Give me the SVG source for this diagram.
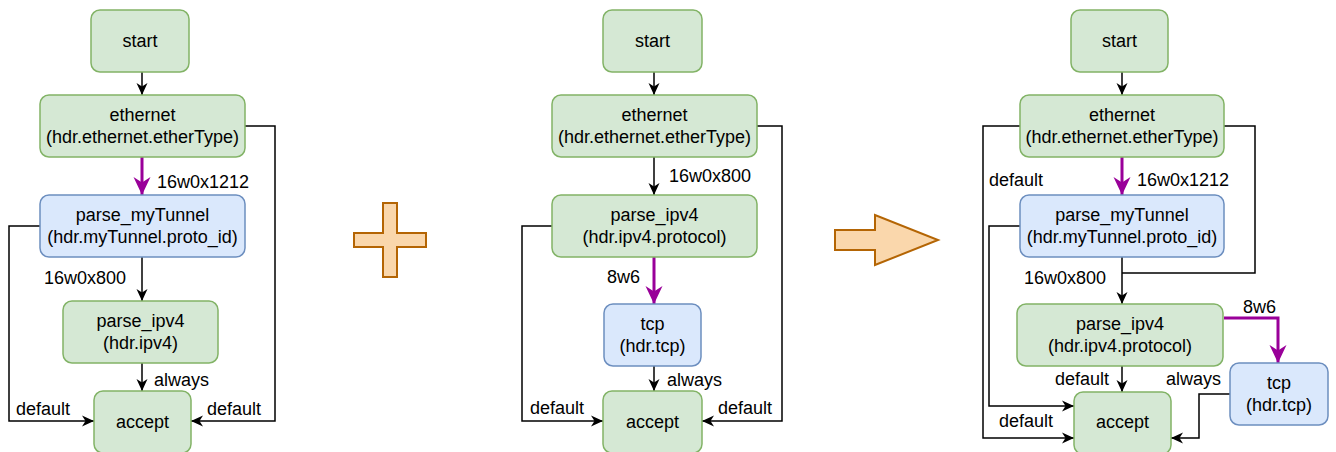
<svg xmlns="http://www.w3.org/2000/svg" width="1336" height="452" viewBox="0 0 1336 452">
  <style>
    .g { fill: #d5e8d4; stroke: #82b366; stroke-width: 1.5; }
    .b { fill: #dae8fc; stroke: #6c8ebf; stroke-width: 1.5; }
    text { font-family: "Liberation Sans", Arial, sans-serif; font-size: 18px; fill: #000; }
    .c { text-anchor: middle; }
    .e { fill: none; stroke: #000; stroke-width: 1.5; }
    .p { fill: none; stroke: #990099; stroke-width: 3; }
    .op { fill: #fad7ac; stroke: #b46504; stroke-width: 2; }
  </style>
  <defs>
    <marker id="ab" markerUnits="userSpaceOnUse" markerWidth="14" markerHeight="14" viewBox="-13 -7 14 14" refX="0" refY="0" orient="auto">
      <path d="M0,0 L-12,-5.5 L-8.5,0 L-12,5.5 Z" fill="#000"/>
    </marker>
    <marker id="ap" markerUnits="userSpaceOnUse" markerWidth="20" markerHeight="20" viewBox="-19 -10 20 20" refX="0" refY="0" orient="auto">
      <path d="M0,0 L-18,-8.5 L-12.5,0 L-18,8.5 Z" fill="#990099"/>
    </marker>
  </defs>

  <!-- connectors -->
  <g id="edges">
    <!-- left graph -->
    <path class="e" d="M142,72 V95" marker-end="url(#ab)"/>
    <path class="p" d="M142,157 V195" marker-end="url(#ap)"/>
    <path class="e" d="M142,257 V301" marker-end="url(#ab)"/>
    <path class="e" d="M142,363 V391" marker-end="url(#ab)"/>
    <path class="e" d="M245,126 H275 V421 H191" marker-end="url(#ab)"/>
    <path class="e" d="M40,226 H9 V421 H94" marker-end="url(#ab)"/>
    <!-- middle graph -->
    <path class="e" d="M654,72 V95" marker-end="url(#ab)"/>
    <path class="e" d="M654,157 V195" marker-end="url(#ab)"/>
    <path class="p" d="M654,257 V304" marker-end="url(#ap)"/>
    <path class="e" d="M654,366 V391" marker-end="url(#ab)"/>
    <path class="e" d="M757,126 H782 V421 H702" marker-end="url(#ab)"/>
    <path class="e" d="M552,226 H522 V421 H603" marker-end="url(#ab)"/>
    <!-- merged graph -->
    <path class="e" d="M1122,72 V95" marker-end="url(#ab)"/>
    <path class="p" d="M1122,157 V195" marker-end="url(#ap)"/>
    <path class="e" d="M1122,257 V304" marker-end="url(#ab)"/>
    <path class="e" d="M1224,126 H1255 V273 H1122"/>
    <path class="e" d="M1020,126 H983 V438 H1074" marker-end="url(#ab)"/>
    <path class="e" d="M1020,226 H989 V406 H1074" marker-end="url(#ab)"/>
    <path class="p" d="M1224,318 H1278 V363" marker-end="url(#ap)"/>
    <path class="e" d="M1122,366 V392" marker-end="url(#ab)"/>
    <path class="e" d="M1230,394 H1199 V438 H1171" marker-end="url(#ab)"/>
  </g>

  <!-- edge labels -->
  <g id="labels">
    <text x="157" y="188">16w0x1212</text>
    <text x="44" y="284">16w0x800</text>
    <text x="154" y="386">always</text>
    <text x="16" y="415">default</text>
    <text x="207" y="415">default</text>

    <text x="669" y="182">16w0x800</text>
    <text x="607" y="283">8w6</text>
    <text x="667" y="386">always</text>
    <text x="530" y="414">default</text>
    <text x="718" y="414">default</text>

    <text x="989" y="186">default</text>
    <text x="1137" y="186">16w0x1212</text>
    <text x="1024" y="284">16w0x800</text>
    <text x="1243" y="313">8w6</text>
    <text x="1055" y="385">default</text>
    <text x="1166" y="385">always</text>
    <text x="999" y="427">default</text>
  </g>

  <!-- left graph nodes -->
  <g id="l-start"><rect class="g" x="91" y="10" width="98" height="62" rx="9"/><text class="c" x="140" y="47">start</text></g>
  <g id="l-ethernet"><rect class="g" x="40" y="95" width="205" height="62" rx="9"/><text class="c" x="142.5" y="121">ethernet</text><text class="c" x="142.5" y="143">(hdr.ethernet.etherType)</text></g>
  <g id="l-myTunnel"><rect class="b" x="40" y="195" width="205" height="62" rx="9"/><text class="c" x="142.5" y="221">parse_myTunnel</text><text class="c" x="142.5" y="243">(hdr.myTunnel.proto_id)</text></g>
  <g id="l-ipv4"><rect class="g" x="63" y="301" width="155" height="62" rx="9"/><text class="c" x="140.5" y="327">parse_ipv4</text><text class="c" x="140.5" y="349">(hdr.ipv4)</text></g>
  <g id="l-accept"><rect class="g" x="94" y="391" width="97" height="62" rx="9"/><text class="c" x="142.5" y="428">accept</text></g>

  <!-- plus operator -->
  <g id="plus"><polygon class="op" points="383,203 397,203 397,233 426,233 426,247 397,247 397,277 383,277 383,247 354,247 354,233 383,233"/></g>

  <!-- middle graph nodes -->
  <g id="m-start"><rect class="g" x="603" y="10" width="99" height="62" rx="9"/><text class="c" x="652.5" y="47">start</text></g>
  <g id="m-ethernet"><rect class="g" x="552" y="95" width="205" height="62" rx="9"/><text class="c" x="654.5" y="121">ethernet</text><text class="c" x="654.5" y="143">(hdr.ethernet.etherType)</text></g>
  <g id="m-ipv4"><rect class="g" x="552" y="195" width="205" height="62" rx="9"/><text class="c" x="654.5" y="221">parse_ipv4</text><text class="c" x="654.5" y="243">(hdr.ipv4.protocol)</text></g>
  <g id="m-tcp"><rect class="b" x="604" y="304" width="97" height="62" rx="9"/><text class="c" x="652.5" y="330">tcp</text><text class="c" x="652.5" y="352">(hdr.tcp)</text></g>
  <g id="m-accept"><rect class="g" x="603" y="391" width="99" height="62" rx="9"/><text class="c" x="652.5" y="428">accept</text></g>

  <!-- result arrow -->
  <g id="result-arrow"><polygon class="op" points="835,230 875,230 875,215 938,240 875,265 875,250 835,250"/></g>

  <!-- merged graph nodes -->
  <g id="r-start"><rect class="g" x="1071" y="10" width="97" height="62" rx="9"/><text class="c" x="1119.5" y="47">start</text></g>
  <g id="r-ethernet"><rect class="g" x="1020" y="95" width="204" height="62" rx="9"/><text class="c" x="1122" y="121">ethernet</text><text class="c" x="1122" y="143">(hdr.ethernet.etherType)</text></g>
  <g id="r-myTunnel"><rect class="b" x="1020" y="195" width="204" height="62" rx="9"/><text class="c" x="1122" y="221">parse_myTunnel</text><text class="c" x="1122" y="243">(hdr.myTunnel.proto_id)</text></g>
  <g id="r-ipv4"><rect class="g" x="1017" y="304" width="206" height="62" rx="9"/><text class="c" x="1120" y="330">parse_ipv4</text><text class="c" x="1120" y="352">(hdr.ipv4.protocol)</text></g>
  <g id="r-tcp"><rect class="b" x="1230" y="363" width="98" height="62" rx="9"/><text class="c" x="1279" y="389">tcp</text><text class="c" x="1279" y="411">(hdr.tcp)</text></g>
  <g id="r-accept"><rect class="g" x="1074" y="392" width="97" height="62" rx="9"/><text class="c" x="1122.5" y="428">accept</text></g>
</svg>
